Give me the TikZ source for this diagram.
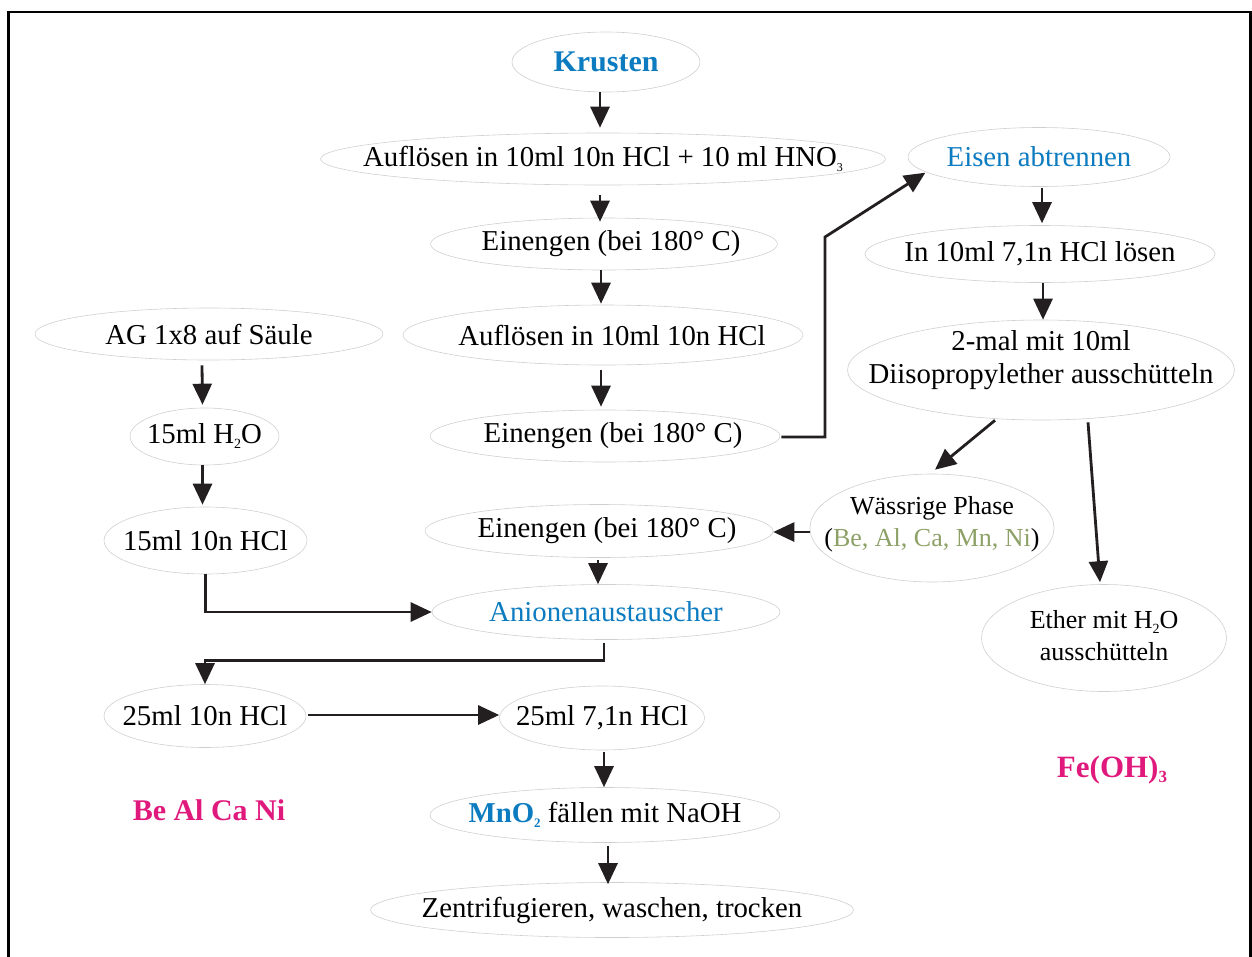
\documentclass[tikz,border=0pt]{standalone}
\usepackage{fontspec}
\setmainfont{Liberation Serif}
\usetikzlibrary{shapes.geometric,arrows.meta}
\definecolor{cblue}{HTML}{0C7BC0}
\definecolor{cmag}{HTML}{E0197D}
\definecolor{cgreen}{HTML}{8DA167}
\definecolor{carrow}{HTML}{231F20}
\definecolor{cell}{HTML}{CFCFCF}
\newcommand\chsub[2][14]{\raisebox{-5pt}{\fontsize{#1}{#1}\selectfont #2}}
\newcommand\ztext[1]{\makebox[0pt]{#1}}
\begin{document}
\begin{tikzpicture}[x=1pt,y=-1pt,
  ell/.style={ellipse, draw=cell, line width=0.6pt, inner sep=0pt, align=center,
              font=\fontsize{28.8}{33}\selectfont},
  smallfont/.style={font=\fontsize{26}{32}\selectfont},
  txt/.style={inner sep=0pt, align=center, font=\fontsize{28.8}{33}\selectfont},
  arr/.style={draw=carrow, line width=2.8pt, line join=miter,
              -{Triangle[length=21pt,width=19pt]}},
  ]
\useasboundingbox (0,0) rectangle (1252,956);
% frame
\draw[line width=2.6pt] (8.3,975) -- (8.3,12) -- (1250.5,12) -- (1250.5,975);

% central column
\node[ell, minimum width=188pt, minimum height=60pt] (kru) at (606,62)
  {\ztext{\fontsize{30}{34}\selectfont\bfseries\color{cblue}Krusten}};
\node[ell, minimum width=565pt, minimum height=52pt] (auf1) at (603,159)
  {\ztext{Auflösen in 10ml 10n HCl + 10 ml HNO\chsub[12]{3}}};
\node[ell, minimum width=347pt, minimum height=52pt] (ein1) at (604,244)
  {\ztext{\hspace{14pt}Einengen (bei 180° C)}};
\node[ell, minimum width=400pt, minimum height=60pt] (auf2) at (603,335)
  {\ztext{\hspace{18pt}Auflösen in 10ml 10n HCl}};
\node[ell, minimum width=350pt, minimum height=52pt] (ein2) at (605,436)
  {\ztext{\hspace{16pt}Einengen (bei 180° C)}};
\node[ell, minimum width=348pt, minimum height=53pt] (ein3) at (599,531)
  {\ztext{\hspace{16pt}Einengen (bei 180° C)}};
\node[ell, minimum width=348pt, minimum height=55pt] (anion) at (606,612)
  {\ztext{\color{cblue}Anionenaustauscher}};
\node[ell, minimum width=205pt, minimum height=64pt] (c25b) at (602,718)
  {\ztext{25ml 7,1n HCl}};
\node[ell, minimum width=350pt, minimum height=55pt] (mno) at (605,815)
  {\ztext{{\bfseries\color{cblue}MnO\chsub[13]{2}} fällen mit NaOH}};
\node[ell, minimum width=483pt, minimum height=55pt] (zen) at (612,910)
  {\ztext{Zentrifugieren, waschen, trocken}};

% left column
\node[ell, minimum width=348pt, minimum height=52pt] (ag) at (209,334)
  {\ztext{AG 1x8 auf Säule}};
\node[ell, minimum width=149pt, minimum height=57pt] (h2o) at (204.5,436.5)
  {\ztext{15ml H\chsub{2}O}};
\node[ell, minimum width=203pt, minimum height=67pt] (hcl15) at (205.5,540.5)
  {\ztext{15ml 10n HCl}};
\node[ell, minimum width=202pt, minimum height=63pt] (c25a) at (205,716)
  {\ztext{25ml 10n HCl}};
\node[txt, font=\fontsize{30}{34}\selectfont\bfseries, text=cmag] (beal) at (209,810)
  {Be Al Ca Ni};

% right column
\node[ell, minimum width=262pt, minimum height=59pt] (eisen) at (1039,157)
  {\ztext{\color{cblue}Eisen abtrennen}};
\node[ell, minimum width=350pt, minimum height=57pt] (in10) at (1040,254)
  {\ztext{In 10ml 7,1n HCl lösen}};
\node[ell, minimum width=387pt, minimum height=100pt,
  label={[txt, yshift=10pt]center:2-mal mit 10ml\\Diisopropylether ausschütteln}] (zwei) at (1041,370) {};
\node[ell, minimum width=244pt, minimum height=108pt,
  label={[txt, smallfont, yshift=4pt]center:Wässrige Phase\\(\textcolor{cgreen}{Be, Al, Ca, Mn, Ni})}] (waes) at (932,528) {};
\node[ell, minimum width=245pt, minimum height=107pt,
  label={[txt, smallfont, yshift=2pt]center:Ether mit H\chsub{2}O\\ausschütteln}] (ether) at (1104,638) {};
\node[txt, font=\fontsize{31}{34}\selectfont\bfseries, text=cmag] (fe) at (1112,770)
  {Fe(OH)\chsub[17]{3}};

% helper coordinates
\coordinate (c1) at (825,437);
\coordinate (c2) at (825,237);

% connectors
\draw[arr] ([xshift=-6pt]kru.south) -- ([xshift=-3pt,yshift=5pt]auf1.north);
\draw[arr] ([xshift=-3pt,yshift=-10pt]auf1.south) -- ([xshift=-4pt,yshift=-4pt]ein1.north);
\draw[arr] ([xshift=-3pt]ein1.south) -- ([xshift=-2pt,yshift=1pt]auf2.north);
\draw[arr] ([xshift=-2pt,yshift=-5pt]auf2.south) -- ([xshift=-4pt,yshift=3pt]ein2.north);
\draw[arr] ([xshift=1pt,yshift=-1pt]ein2.east) -- (c1) -- (c2) -- ([xshift=-2pt]eisen.188);
\draw[arr] ([xshift=3pt,yshift=-1pt]eisen.south) -- ([xshift=2pt,yshift=2pt]in10.north);
\draw[arr] ([xshift=3pt]in10.south) -- ([xshift=2pt]zwei.north);
\draw[arr] ([xshift=-46pt]zwei.south) -- ([xshift=3pt,yshift=4pt]waes.north);
\draw[arr] ([xshift=47pt,yshift=-2pt]zwei.south) -- ([xshift=-4pt,yshift=2pt]ether.north);
\draw[arr] ([yshift=-4pt]waes.west) -- ([yshift=-1pt]ein3.east);
\draw[arr] ([xshift=-1pt,yshift=-2pt]ein3.south) -- ([xshift=-8pt]anion.north);
\draw[arr] ([xshift=-7pt,yshift=-5pt]ag.south) -- ([xshift=-2pt,yshift=3pt]h2o.north);
\draw[arr] ([xshift=-2pt]h2o.south) -- ([xshift=-3pt,yshift=2pt]hcl15.north);
\draw[arr] (hcl15.south) |- (anion.west);
\draw[arr] ([xshift=-2pt,yshift=-3pt]anion.south) -- ++(0,18) -| (c25a.north);
\draw[arr] ([xshift=2pt,yshift=1pt]c25a.east) -- ([yshift=1pt]c25a.east -| c25b.west);
\draw[arr] ([xshift=2pt,yshift=-2pt]c25b.south) -- ([xshift=-1pt]mno.north);
\draw[arr] ([xshift=3pt,yshift=-3pt]mno.south) -- ([xshift=-4pt,yshift=-2pt]zen.north);
\end{tikzpicture}
\end{document}
